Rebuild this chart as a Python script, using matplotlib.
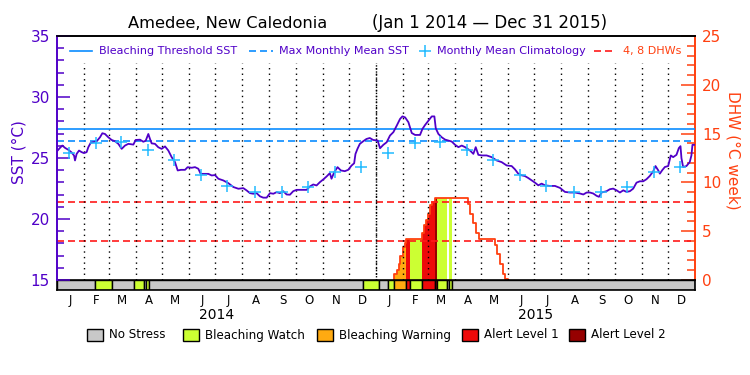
import numpy as np
import matplotlib.pyplot as plt
from matplotlib.patches import Rectangle

start = np.datetime64('2014-01-01')
n_days = 730

# daily SST trace (day since Jan 1 2014, deg C)
sst_day = [0, 3.4, 6.1, 9.2, 13, 16.8, 19.5, 20.6, 22.5, 25.2, 28.2, 30.9, 33.9, 35.8, 38.5,
           41.6, 45.4, 49.2, 51.9, 54.9, 58.7, 62.5, 66.4, 70.2, 74, 77.8, 81.6, 87.4, 90, 95,
           98.8, 101.5, 104.5, 106.4, 108.3, 112.1, 115.9, 119.7, 123.6, 127.4, 131.2, 135,
           138.1, 141.9, 146.5, 149.5, 154.1, 157.9, 161.7, 164.4, 173.2, 177, 180.8, 184.6,
           190.3, 196, 201.8, 207.5, 213.2, 217, 220.8, 224.6, 228.4, 232.2, 236, 239.9, 243.7,
           247.5, 251.3, 255.1, 258.9, 262.7, 266.5, 270.3, 274.1, 285.6, 289.4, 293.2, 297,
           300.8, 304.6, 308.4, 312.2, 314.1, 317.2, 321, 324.8, 329.3, 333.2, 337, 340, 341.5,
           343.8, 346.5, 350.3, 354.1, 357.9, 361.7, 366.9, 369.6, 373.4, 377.2, 381, 384.9,
           388.7, 392.5, 395.2, 398.3, 402.1, 405.9, 409.7, 415.4, 418.1, 421.1, 425, 428.8,
           431.8, 433.4, 436.4, 440.2, 444, 447.8, 451.6, 455.5, 459.3, 463.1, 466.9, 472.6,
           476.4, 479.1, 482.1, 485.9, 491.6, 497.3, 503, 508.8, 514.5, 520.2, 524, 527.8,
           531.6, 535.4, 539.2, 543, 546.9, 550.7, 554.5, 558.3, 564, 569.8, 575.5, 581.2, 587,
           592.7, 598.4, 602.2, 606, 609.8, 613.6, 617.4, 620.1, 623.1, 628.8, 632.6, 636.4,
           640.3, 644.1, 647.9, 651.7, 655.5, 659.3, 663.1, 666.9, 670.7, 674.5, 678.3, 682.2,
           684.8, 687.9, 689.8, 692.4, 695.5, 699.3, 702.3, 705, 708.8, 711.5, 713.4, 714.5,
           716.4, 720.2, 724, 725.9, 727.1, 730]
sst_val = [25.56, 25.83, 26.02, 25.83, 25.67, 25.45, 25.2, 24.8, 25.34, 25.61, 25.48, 25.4, 25.48,
           25.88, 26.24, 26.3, 26.37, 26.7, 27.03, 26.97, 26.7, 26.48, 26.37, 26.16, 25.75, 26.02,
           26.16, 26.1, 26.48, 26.5, 26.33, 26.42, 26.97, 26.56, 26.2, 26.16, 25.88, 25.75, 25.95,
           25.61, 25.07, 24.66, 23.98, 24.03, 24.03, 24.25, 24.2, 24.25, 24.12, 23.7, 23.7, 23.57,
           23.6, 23.3, 23.16, 22.94, 22.62, 22.48, 22.53, 22.34, 22.12, 22.07, 22.12, 21.86, 21.75,
           21.75, 22.12, 22.07, 22.2, 22.12, 22.28, 22.01, 21.99, 22.28, 22.39, 22.39, 22.67, 22.83,
           22.75, 23.02, 23.24, 23.48, 23.76, 23.3, 23.84, 24.25, 23.98, 23.92, 24.03, 24.38, 24.57,
           25.33, 25.75, 26.16, 26.37, 26.56, 26.64, 26.48, 26.43, 25.8, 26.08, 26.29, 26.84, 27.12,
           27.65, 28.2, 28.41, 28.33, 27.93, 27.05, 26.89, 26.89, 27.38, 27.7, 28.06, 28.41, 28.41,
           27.43, 26.97, 26.7, 26.51, 26.43, 26.35, 26.08, 25.89, 26.02, 25.89, 25.61, 25.34, 25.89,
           25.26, 25.21, 25.21, 25.07, 24.8, 24.66, 24.39, 24.34, 24.07, 23.71, 23.58, 23.52, 23.36,
           23.17, 22.98, 22.76, 22.9, 22.76, 22.71, 22.71, 22.55, 22.22, 22.17, 22.17, 22.09, 22.01,
           22.17, 22.17, 22.09, 21.9, 21.82, 22.17, 22.28, 22.44, 22.49, 22.35, 22.17, 22.35, 22.22,
           22.28, 22.49, 22.98, 23.09, 23.09, 23.26, 23.53, 23.91, 24.34, 23.99, 23.72, 23.99, 24.26,
           24.34, 25.21, 25.07, 25.26, 25.81, 25.97, 24.99, 24.26, 24.34, 24.67, 25.21, 26.08, 26.08]

# monthly mean climatology (Jan..Dec)
clim_val = [25.4, 26.24, 26.3, 25.67, 24.85, 23.6, 22.67, 22.23, 22.23, 22.6, 23.87, 24.27]
mmm = 26.4
threshold = 27.4
dhw_levels = [4, 8]

# degree heating weeks, step changes
dhw_day = [0, 386, 389, 391, 393, 396, 398, 399, 418, 420, 422, 425, 427, 429, 432,
           470, 473, 476, 479, 483, 501, 504, 507, 510, 513, 516]
dhw_val = [0, 0.6, 1.0, 1.6, 2.45, 3.4, 3.75, 4.15, 4.85, 5.65, 6.1, 6.75, 7.7, 7.95, 8.4,
           7.75, 6.8, 5.85, 4.85, 4.15, 3.55, 2.65, 1.65, 0.6, 0.07, 0]

# bleaching stress level periods (start day, level)
stress_start = [0, 43, 63, 88, 99, 102, 105, 350, 369, 379, 386, 399, 404, 418, 432, 435, 446, 449, 452]
stress_level = [0, 1, 0, 1, 0, 1, 0, 1, 0, 1, 2, 3, 1, 3, 4, 1, 0, 1, 0]
stress_names = ['No Stress', 'Bleaching Watch', 'Bleaching Warning', 'Alert Level 1', 'Alert Level 2']
stress_colors = ['#c8c8c8', '#ccff33', '#ffaa11', '#ee0a0a', '#960000']

purple = '#5000c8'
orange = '#ff4010'
blue = '#0a8cff'
cyan = '#22bbff'

months = np.arange(np.datetime64('2014-01'), np.datetime64('2016-01'), dtype='datetime64[M]')
month_days = (months.astype('datetime64[D]') - start).astype(int)
month_edges = np.append(month_days, n_days)
month_mid = (month_edges[:-1] + month_edges[1:]) / 2
month_letters = ['JFMAMJJASOND'[int(str(m)[5:7]) - 1] for m in months]

fig = plt.figure(figsize=(7.5, 3.75), dpi=100)
L, B, W, H = 57 / 750, 1 - 280 / 375, 638 / 750, 244 / 375
ax2 = fig.add_axes([L, B, W, H])
ax = ax2.twinx()
ax.set_zorder(ax2.get_zorder() + 1)
ax.patch.set_visible(False)

# DHW fill coloured by stress level + outline
d = np.arange(n_days + 1)
dhw_daily = np.array(dhw_val)[np.searchsorted(dhw_day, d, side='right') - 1]
edges = stress_start + [n_days]
for s, e, lv in zip(edges[:-1], edges[1:], stress_level):
    if lv == 0:
        continue
    xs = np.arange(s, e + 1)
    ys = dhw_daily[xs]
    ax2.fill_between(xs, 0, ys, step='post', color=stress_colors[lv], lw=0, zorder=1)
xd = np.r_[dhw_day[1], dhw_day[1:]]
yd = np.r_[0, dhw_val[1:]]
ax2.plot(xd, yd, drawstyle='steps-post', color=orange, lw=1.3, zorder=2)
for lv in dhw_levels:
    ax2.axhline(lv, color='#ff1a1a', lw=1.2, dashes=(4.2, 2.4), zorder=3)
ax2.set_ylim(0, 25)
ax2.set_xlim(0, n_days)
ax2.set_xticks([])

# SST axis content
ax.set_ylim(15, 35)
ax.set_xlim(0, n_days)
ax.vlines(month_days[1:], 0, 0.889, transform=ax.get_xaxis_transform(),
          colors='black', lw=1.0, linestyles=[(0, (1, 3))])
ax.vlines([365], 0, 0.889, transform=ax.get_xaxis_transform(),
          colors='black', lw=1.0, linestyles=[(0, (1, 1.2))])
ax.axhline(threshold, color=blue, lw=1.2)
ax.axhline(mmm, color=blue, lw=1.2, dashes=(4.2, 2.4))
ax.plot(sst_day, sst_val, color=purple, lw=1.3)
ax.plot(month_days + 14, clim_val * 2, '+', color=cyan, ms=9, mew=1.1)

# spines / ticks
ax.yaxis.tick_left()
ax.yaxis.set_label_position('left')
ax2.yaxis.tick_right()
for a in (ax, ax2):
    a.spines['bottom'].set_visible(False)
ax.spines['right'].set_visible(False)
ax2.spines['left'].set_visible(False)
ax.spines['left'].set_color(purple)
ax.spines['left'].set_linewidth(1.4)
ax2.spines['right'].set_color(orange)
ax2.spines['right'].set_linewidth(1.4)
ax.spines['top'].set_linewidth(1.2)
ax2.spines['top'].set_linewidth(1.2)
ax.set_yticks(range(15, 36, 5))
ax.set_yticks(range(15, 36), minor=True)
ax.tick_params(axis='y', which='major', direction='in', length=9, width=1.1, colors=purple,
               labelsize=11, pad=5)
ax.tick_params(axis='y', which='minor', direction='in', length=5, width=1.1, colors=purple)
ax2.set_yticks(range(0, 26, 5))
ax2.set_yticks(range(0, 26), minor=True)
ax2.tick_params(axis='y', which='major', direction='in', length=10, width=1.1, colors=orange,
                labelsize=11, pad=5)
ax2.tick_params(axis='y', which='minor', direction='in', length=5.5, width=1.1, colors=orange)
ax.set_xticks([])

fig.text(0.026, 1 - 152 / 375, 'SST (°C)', rotation=90, color=purple, fontsize=11,
         ha='center', va='center')
fig.text(0.977, 1 - 150 / 375, 'DHW (°C week)', rotation=270, color=orange, fontsize=11,
         ha='center', va='center')

# title
fig.text(128 / 750, 1 - 23 / 375, 'Amedee, New Caledonia', fontsize=11.7, ha='left', va='center')
fig.text(372 / 750, 1 - 23 / 375, '(Jan 1 2014 — Dec 31 2015)', fontsize=12, ha='left', va='center')

# top legend (axes coords)
ly = 0.9385
ax.plot([0.0204, 0.0549], [ly, ly], transform=ax.transAxes, color=blue, lw=1.2)
ax.text(0.0658, ly, 'Bleaching Threshold SST', transform=ax.transAxes, color=purple,
        fontsize=8, va='center')
ax.plot([0.301, 0.3386], [ly, ly], transform=ax.transAxes, color=blue, lw=1.2, dashes=(4.2, 2.4))
ax.text(0.348, ly, 'Max Monthly Mean SST', transform=ax.transAxes, color=purple,
        fontsize=8, va='center')
ax.plot([0.5768], [ly], '+', transform=ax.transAxes, color=cyan, ms=9, mew=1.1)
ax.text(0.5956, ly, 'Monthly Mean Climatology', transform=ax.transAxes, color=purple,
        fontsize=8, va='center')
ax.plot([0.8417, 0.8762], [ly, ly], transform=ax.transAxes, color='#ff1a1a', lw=1.2,
        dashes=(4.2, 2.4))
ax.text(0.8871, ly, '4, 8 DHWs', transform=ax.transAxes, color=orange, fontsize=8, va='center')

# stress bar
bx = fig.add_axes([L, 1 - 290 / 375, W, 10 / 375])
for s, e, lv in zip(edges[:-1], edges[1:], stress_level):
    bx.bar(s, 1, width=e - s, align='edge', color=stress_colors[lv], edgecolor='black', lw=1)
bx.set_xlim(0, n_days)
bx.set_ylim(0, 1)
bx.set_yticks([])
bx.set_xticks(month_mid, month_letters)
bx.tick_params(axis='x', length=0, pad=3, labelsize=8.5)
for sp in bx.spines.values():
    sp.set_linewidth(1.2)
bx.text(182.5, -2.5, '2014', transform=bx.get_xaxis_transform(), ha='center', va='center', fontsize=10)
bx.text(547.5, -2.5, '2015', transform=bx.get_xaxis_transform(), ha='center', va='center', fontsize=10)

# bottom legend
box_x = [87, 183, 317, 462, 569]
for bxp, name, col in zip(box_x, stress_names, stress_colors):
    fig.patches.append(Rectangle((bxp / 750, 1 - 341 / 375), 16 / 750, 12 / 375,
                                 transform=fig.transFigure, facecolor=col, edgecolor='black', lw=1))
    fig.text((bxp + 22) / 750, 1 - 335 / 375, name, fontsize=8.6, va='center', ha='left')

fig.savefig('out.png', dpi=100)
